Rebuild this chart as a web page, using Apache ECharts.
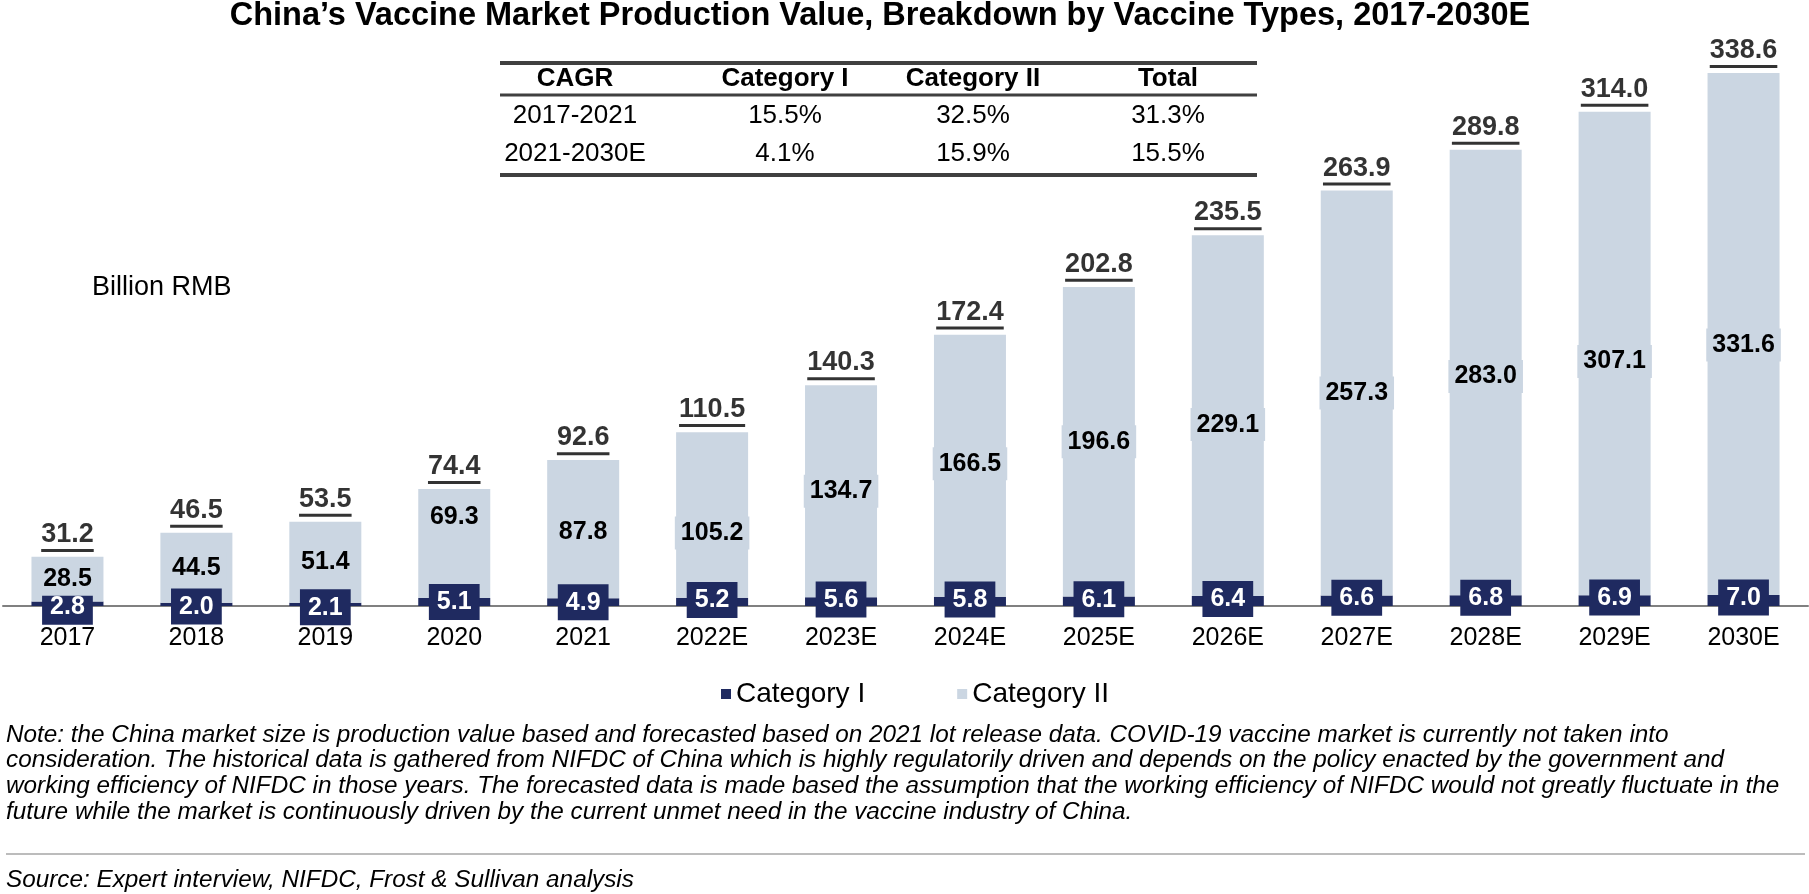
<!DOCTYPE html>
<html><head><meta charset="utf-8">
<script src="https://cdn.jsdelivr.net/npm/echarts@6/dist/echarts.min.js"></script>
<style>html,body{margin:0;padding:0;background:#fff}#c{width:1809px;height:894px}</style>
</head><body><div id="c"></div>
<script>
const categories = ['2017','2018','2019','2020','2021','2022E','2023E','2024E','2025E','2026E','2027E','2028E','2029E','2030E'];
const categoryI = [2.8,2.0,2.1,5.1,4.9,5.2,5.6,5.8,6.1,6.4,6.6,6.8,6.9,7.0];
const categoryII = [28.5,44.5,51.4,69.3,87.8,105.2,134.7,166.5,196.6,229.1,257.3,283.0,307.1,331.6];
const totals = [31.2,46.5,53.5,74.4,92.6,110.5,140.3,172.4,202.8,235.5,263.9,289.8,314.0,338.6];
const cagrHeader = ['CAGR','Category I','Category II','Total'];
const cagrPeriods = ['2017-2021','2021-2030E'];
const cagrCategoryI = ['15.5%','4.1%'];
const cagrCategoryII = ['32.5%','15.9%'];
const cagrTotal = ['31.3%','15.5%'];
const titleText = 'China\u2019s Vaccine Market Production Value, Breakdown by Vaccine Types, 2017-2030E';
const unitText = 'Billion RMB';
const noteLines = [
  'Note: the China market size is production value based and forecasted based on 2021 lot release data. COVID-19 vaccine market is currently not taken into',
  'consideration. The historical data is gathered from NIFDC of China which is highly regulatorily driven and depends on the policy enacted by the government and',
  'working efficiency of NIFDC in those years. The forecasted data is made based the assumption that the working efficiency of NIFDC would not greatly fluctuate in the',
  'future while the market is continuously driven by the current unmet need in the vaccine industry of China.'
];
const sourceText = 'Source: Expert interview, NIFDC, Frost & Sullivan analysis';

// label nudges (pixels, layout only)
const catILabelNudge = [3,2,3,0,0,-2,-2,-2,-2,-2,-3,-3,-3,-3];
const catIILabelNudge = [0,0,0,-26,3,18,0,-2,0,9,0,4,8,11];

const FF = '"Liberation Sans", Arial, Helvetica, sans-serif';
const DARK = '#1f2a60';
const LIGHT = '#cbd6e2';

const chart = echarts.init(document.getElementById('c'));

const graphics = [];
function txt(text, x, y, size, weight, align, style) {
  graphics.push({type:'text', x:x, y:y, silent:true, style:{
    text:text, fill:'#000', textAlign:align||'left', textVerticalAlign:'middle',
    font:(style||'normal')+' '+(weight||'normal')+' '+size+'px '+FF }});
}
function hline(x1,x2,y,w,color){
  graphics.push({type:'line', silent:true, shape:{x1:x1,y1:y,x2:x2,y2:y}, style:{stroke:color,lineWidth:w}});
}
// title
txt(titleText, 880, 16, 32.5, 'bold', 'center');
// table
const colX = [575, 785, 973, 1168];
hline(500, 1257, 63, 4, '#404040');
hline(500, 1257, 95, 3, '#404040');
hline(500, 1257, 175, 4, '#404040');
cagrHeader.forEach((h,i)=>txt(h, colX[i], 79, 26, 'bold', 'center'));
cagrPeriods.forEach((p,r)=>{
  const y = r===0 ? 116 : 154;
  txt(p, colX[0], y, 26, 'normal', 'center');
  txt(cagrCategoryI[r], colX[1], y, 26, 'normal', 'center');
  txt(cagrCategoryII[r], colX[2], y, 26, 'normal', 'center');
  txt(cagrTotal[r], colX[3], y, 26, 'normal', 'center');
});
// unit
txt(unitText, 92, 288, 27, 'normal', 'left');
// notes
noteLines.forEach((l,i)=>txt(l, 6, 735 + i*25.7, 24.3, 'normal', 'left', 'italic'));
hline(6, 1805, 854, 1.5, '#a6a6a6');
txt(sourceText, 6, 880, 24.3, 'normal', 'left', 'italic');

chart.setOption({
  animation:false,
  backgroundColor:'#fff',
  textStyle:{fontFamily:FF},
  grid:{left:3, right:1, top:70.8, bottom:288, containLabel:false},
  legend:{data:['Category I','Category II'], left:716, top:675, icon:'rect', itemWidth:10, itemHeight:10, itemGap:92,
    textStyle:{fontSize:28, color:'#000', fontFamily:FF}},
  xAxis:{type:'category', data:categories,
    axisLine:{lineStyle:{color:'#808080', width:2}},
    axisTick:{length:9, lineStyle:{color:'#808080', width:2}},
    axisLabel:{fontSize:25, color:'#000', margin:20, fontFamily:FF}},
  yAxis:{type:'value', min:0, max:340, show:false, splitLine:{show:false}},
  series:[
    {name:'Category I', type:'bar', stack:'a', barWidth:72, itemStyle:{color:DARK},
      data:categoryI.map((v,i)=>({value:v, label:{offset:[0,catILabelNudge[i]]}})),
      label:{show:true, position:'inside', formatter:p=>'{b|'+p.value.toFixed(1)+'}',
        rich:{b:{color:'#fff', fontWeight:'bold', fontSize:25, fontFamily:FF, backgroundColor:DARK,
          padding:[6,8,5,8], lineHeight:25}}}},
    {name:'Category II', type:'bar', stack:'a', barWidth:72, itemStyle:{color:LIGHT},
      data:categoryII.map((v,i)=>({value:v, label:{offset:[0,catIILabelNudge[i]]}})),
      label:{show:true, position:'inside', formatter:p=>p.value.toFixed(1), color:'#000',
        fontWeight:'bold', fontSize:25, fontFamily:FF, backgroundColor:LIGHT, padding:[4,6]}},
    {name:'Total', type:'scatter', data:totals, symbolSize:0, silent:true, z:5,
      label:{show:true, position:'top', distance:5,
        formatter:p=>{const s=p.value.toFixed(1); return '{t|'+s+'}\n{u|'+s+'}';},
        rich:{t:{fontSize:27, fontWeight:'bold', color:'#000', lineHeight:29, fontFamily:FF},
              u:{fontSize:27, fontWeight:'bold', fontFamily:FF, color:'rgba(0,0,0,0)', height:3, lineHeight:3, backgroundColor:'#000'}}}}
  ],
  graphic:graphics
});
</script></body></html>
